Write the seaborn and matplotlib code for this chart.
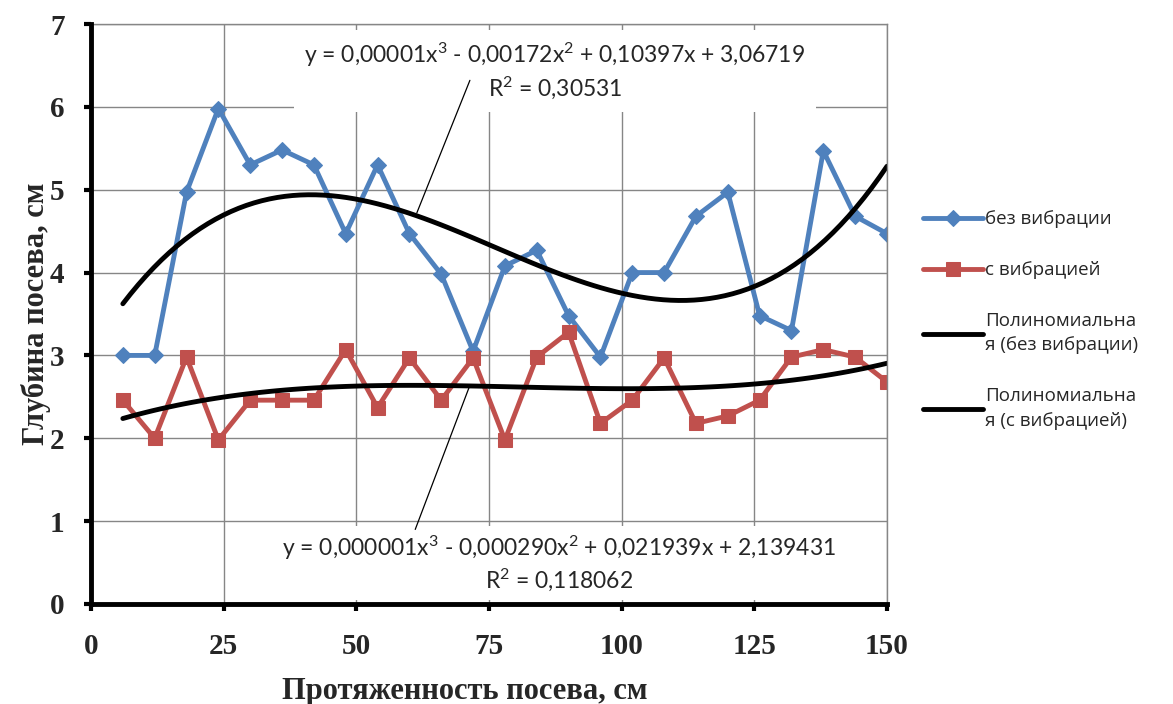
import matplotlib
matplotlib.use('Agg')
import matplotlib.pyplot as plt
import seaborn as sns
import pandas as pd

length = [6, 12, 18, 24, 30, 36, 42, 48, 54, 60, 66, 72, 78,
          84, 90, 96, 102, 108, 114, 120, 126, 132, 138, 144, 150]
no_vibration = [3.0, 3.0, 4.97, 5.98, 5.3, 5.48, 5.3, 4.47, 5.3, 4.47, 3.98, 3.05, 4.08,
                4.27, 3.48, 2.98, 4.0, 4.0, 4.68, 4.97, 3.48, 3.3, 5.47, 4.68, 4.47]
with_vibration = [2.46, 2.0, 2.98, 1.98, 2.46, 2.46, 2.46, 3.07, 2.37, 2.97, 2.46, 2.97, 1.98,
                  2.98, 3.28, 2.18, 2.46, 2.97, 2.18, 2.27, 2.46, 2.98, 3.07, 2.98, 2.68]

x_ticks = [0, 25, 50, 75, 100, 125, 150]
y_ticks = [0, 1, 2, 3, 4, 5, 6, 7]

label_no = "без вибрации"
label_with = "с вибрацией"
label_trend_no = "Полиномиальна\nя (без вибрации)"
label_trend_with = "Полиномиальна\nя (с вибрацией)"
eq_no = "y = 0,00001x$^3$ - 0,00172x$^2$ + 0,10397x + 3,06719\nR$^2$ = 0,30531"
eq_with = "y = 0,000001x$^3$ - 0,000290x$^2$ + 0,021939x + 2,139431\nR$^2$ = 0,118062"
x_title = "Протяженность посева, см"
y_title = "Глубина посева, см"

BLUE = "#4F81BD"
RED = "#C0504D"
GRID = "#868686"

df = pd.DataFrame({"length": length, "no_vib": no_vibration, "with_vib": with_vibration})

sns.set_theme(style="white")
plt.rcParams['font.family'] = ['Liberation Serif', 'DejaVu Serif']
plt.rcParams['mathtext.fontset'] = 'custom'
plt.rcParams['mathtext.rm'] = 'Lato'
plt.rcParams['mathtext.it'] = 'Lato'
plt.rcParams['mathtext.bf'] = 'Lato:bold'

fig = plt.figure(figsize=(11.73, 7.04), dpi=100)
ax = fig.add_axes([91 / 1173, 100 / 704, 796 / 1173, 580 / 704])

sns.lineplot(data=df, x="length", y="no_vib", ax=ax, color=BLUE, lw=3.5,
             marker="D", markersize=8.5, markeredgecolor=BLUE, label=label_no)
sns.lineplot(data=df, x="length", y="with_vib", ax=ax, color=RED, lw=3.5,
             marker="s", markersize=10, markeredgecolor=RED, label=label_with)
sns.regplot(data=df, x="length", y="no_vib", order=3, ci=None, scatter=False, ax=ax,
            line_kws=dict(color="black", lw=3.5), label=label_trend_no)
sns.regplot(data=df, x="length", y="with_vib", order=3, ci=None, scatter=False, ax=ax,
            line_kws=dict(color="black", lw=3.5), label=label_trend_with)

ax.set_xlim(0, 150)
ax.set_ylim(0, 7)
ax.set_xticks(x_ticks)
ax.set_yticks(y_ticks)
ax.grid(True, color=GRID, lw=1)
ax.set_axisbelow(True)

for side in ["left", "bottom"]:
    ax.spines[side].set_color("black")
    ax.spines[side].set_linewidth(3.5)
    ax.spines[side].set_zorder(5)
for side in ["top", "right"]:
    ax.spines[side].set_color(GRID)
    ax.spines[side].set_linewidth(1)

ax.tick_params(axis="both", direction="out", length=5, width=3, color="black",
               labelsize=21, left=True, bottom=True)
ax.tick_params(axis="x", pad=16)
ax.tick_params(axis="y", pad=14)
for lbl in ax.get_xticklabels() + ax.get_yticklabels():
    lbl.set_fontweight("bold")

ax.set_xlabel(x_title, fontsize=22, fontweight="bold")
ax.set_ylabel(y_title, fontsize=22, fontweight="bold")
ax.xaxis.set_label_coords(0.47, -0.125)
ax.yaxis.set_label_coords(-0.05, 0.5)

# equation labels with leader lines
eq_font = dict(family=["Lato", "DejaVu Sans"], size=16.5)
ax.text(87.4, 6.43, eq_no, ha="center", va="center", linespacing=1.25, zorder=3,
        bbox=dict(boxstyle="square,pad=0.45", fc="white", ec="none"), **eq_font)
ax.text(88.2, 0.49, eq_with, ha="center", va="center", linespacing=1.2, zorder=3,
        bbox=dict(boxstyle="square,pad=0.3", fc="white", ec="none"), **eq_font)
ax.annotate("", xy=(61.4, 4.72), xytext=(71.4, 6.32),
            arrowprops=dict(arrowstyle="-", color="black", lw=0.9, shrinkA=0, shrinkB=0))
ax.annotate("", xy=(71.4, 2.64), xytext=(61.1, 0.9),
            arrowprops=dict(arrowstyle="-", color="black", lw=0.9, shrinkA=0, shrinkB=0))

leg = ax.legend(loc="center left", bbox_to_anchor=(923 / 1173, 1 - 320 / 704),
                bbox_transform=fig.transFigure, frameon=False, borderaxespad=0, borderpad=0,
                handlelength=3.2, handletextpad=0.1, labelspacing=1.75,
                prop=dict(family=["Open Sans", "DejaVu Sans"], size=13.5))
for txt in leg.get_texts():
    txt.set_linespacing(1.45)

fig.savefig("out.png", dpi=100)
